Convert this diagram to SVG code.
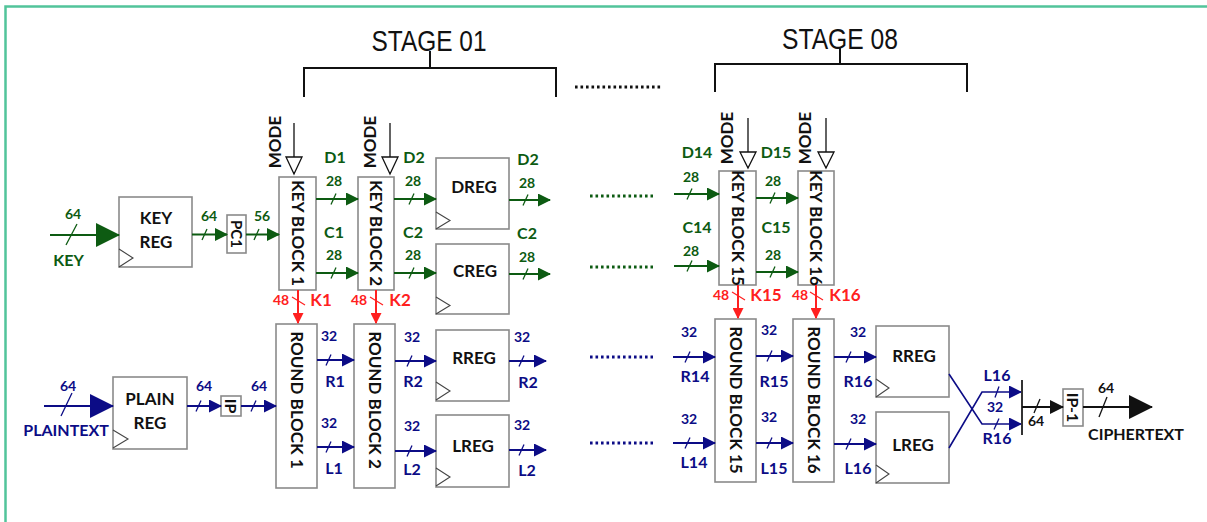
<svg xmlns="http://www.w3.org/2000/svg" width="1207" height="522" viewBox="0 0 1207 522">
<style>
text{font-family:Lato,"Liberation Sans",sans-serif;font-weight:bold;text-anchor:middle}
.box{fill:#fff;stroke:#8a8a8a;stroke-width:1.6}
.clk{fill:none;stroke:#444;stroke-width:1.1}
.g{stroke:#0d5b12;stroke-width:2;fill:none}
.n{stroke:#0c0c86;stroke-width:2;fill:none}
.r{stroke:#ff2020;stroke-width:2;fill:none}
.k{stroke:#111;stroke-width:2;fill:none}
.gs{stroke:#0d5b12;stroke-width:1.3}
.ns{stroke:#0c0c86;stroke-width:1.3}
.rs{stroke:#ff2020;stroke-width:1.3}
.ks{stroke:#111;stroke-width:1.3}
.gt{fill:#0d5b12}
.nt{fill:#0c0c86}
.rt{fill:#ff2020}
.kt{fill:#111}
.num{font-size:14px}
.lab{font-size:16px}
.bt{font-size:17px;fill:#111}
.mode{stroke:#111;stroke-width:1.3;fill:none}
.tri{fill:#fff;stroke:#111;stroke-width:1.3}
.dots{stroke-width:3;stroke-dasharray:2.6 2.9}
.stage{font-family:"Liberation Sans",Arial,sans-serif;font-weight:normal;font-size:29px;fill:#111}
</style>
<defs>
<marker id="ag" viewBox="0 0 13 13" refX="12" refY="6.5" markerWidth="13" markerHeight="13" markerUnits="userSpaceOnUse" orient="auto"><path d="M0,0 L13,6.5 L0,13 z" fill="#0d5b12"/></marker>
<marker id="an" viewBox="0 0 13 13" refX="12" refY="6.5" markerWidth="13" markerHeight="13" markerUnits="userSpaceOnUse" orient="auto"><path d="M0,0 L13,6.5 L0,13 z" fill="#0c0c86"/></marker>
<marker id="ak" viewBox="0 0 14 14" refX="13" refY="7" markerWidth="14" markerHeight="14" markerUnits="userSpaceOnUse" orient="auto"><path d="M0,0 L14,7 L0,14 z" fill="#111"/></marker>
<marker id="ar" viewBox="0 0 11 11" refX="10" refY="5.5" markerWidth="11" markerHeight="11" markerUnits="userSpaceOnUse" orient="auto"><path d="M0,0 L11,5.5 L0,11 z" fill="#ff2020"/></marker>
<marker id="bg" viewBox="0 0 24 24" refX="23" refY="12" markerWidth="24" markerHeight="24" markerUnits="userSpaceOnUse" orient="auto"><path d="M0,0 L24,12 L0,24 z" fill="#0d5b12"/></marker>
<marker id="bn" viewBox="0 0 24 24" refX="23" refY="12" markerWidth="24" markerHeight="24" markerUnits="userSpaceOnUse" orient="auto"><path d="M0,0 L24,12 L0,24 z" fill="#0c0c86"/></marker>
<marker id="bk" viewBox="0 0 24 24" refX="23" refY="12" markerWidth="24" markerHeight="24" markerUnits="userSpaceOnUse" orient="auto"><path d="M0,0 L24,12 L0,24 z" fill="#111"/></marker>
</defs>
<rect width="1207" height="522" fill="#fff"/>
<path d="M5.5,522 V6.5 H1207" stroke="#52c49a" stroke-width="2.5" fill="none"/>

<g id="stages">
<path d="M304,97 V68 H556 V97 M430,68 V51" class="k"/>
<path d="M715,92 V64 H967 V92 M840,64 V48" class="k"/>
<text x="429" y="51" class="stage" textLength="115" lengthAdjust="spacingAndGlyphs">STAGE 01</text>
<text x="840" y="49" class="stage" textLength="116" lengthAdjust="spacingAndGlyphs">STAGE 08</text>
<line x1="575" y1="87" x2="662" y2="87" class="k dots"/>
</g>

<g id="key-reg"><rect x="119" y="197" width="73" height="70" class="box"/><path d="M119,249 L133,258 L119,267" class="clk"/><text x="156" y="224" class="bt">KEY</text><text x="156" y="248" class="bt">REG</text></g>
<g id="pc1"><rect x="227" y="215" width="19" height="38" class="box"/><text transform="translate(236.5,234) rotate(90)" dy="0.35em" class="bt" style="font-size:15px">PC1</text></g>
<g id="key-block-1"><rect x="279" y="177" width="37" height="113" class="box"/><text transform="translate(297.5,233) rotate(90)" dy="0.35em" class="bt">KEY BLOCK 1</text></g>
<g id="key-block-2"><rect x="358" y="177" width="36" height="113" class="box"/><text transform="translate(376,233) rotate(90)" dy="0.35em" class="bt">KEY BLOCK 2</text></g>
<g id="dreg"><rect x="436" y="158" width="73" height="71" class="box"/><path d="M436,212 L450,220.5 L436,229" class="clk"/><text x="474" y="193" class="bt">DREG</text></g>
<g id="creg"><rect x="436" y="244" width="73" height="70" class="box"/><path d="M436,297 L450,305.5 L436,314" class="clk"/><text x="475" y="277" class="bt">CREG</text></g>
<g id="key-block-15"><rect x="719" y="171" width="37" height="114" class="box"/><text transform="translate(737.5,228) rotate(90)" dy="0.35em" class="bt">KEY BLOCK 15</text></g>
<g id="key-block-16"><rect x="798" y="171" width="36" height="114" class="box"/><text transform="translate(816,228) rotate(90)" dy="0.35em" class="bt">KEY BLOCK 16</text></g>

<g id="plain-reg"><rect x="113" y="377" width="74" height="72" class="box"/><path d="M113,430 L128,439 L113,448" class="clk"/><text x="150" y="405" class="bt">PLAIN</text><text x="150" y="429" class="bt">REG</text></g>
<g id="ip"><rect x="221" y="396" width="20" height="20" class="box"/><text transform="translate(231,406) rotate(90)" dy="0.35em" class="bt" style="font-size:16px">IP</text></g>
<g id="round-block-1"><rect x="276" y="324" width="41" height="164" class="box"/><text transform="translate(296.5,400) rotate(90)" dy="0.35em" class="bt">ROUND BLOCK 1</text></g>
<g id="round-block-2"><rect x="354" y="324" width="41" height="164" class="box"/><text transform="translate(374.5,400) rotate(90)" dy="0.35em" class="bt">ROUND BLOCK 2</text></g>
<g id="rreg-1"><rect x="436" y="330" width="73" height="71" class="box"/><path d="M436,382 L450,391 L436,400" class="clk"/><text x="474" y="364" class="bt">RREG</text></g>
<g id="lreg-1"><rect x="436" y="415" width="73" height="72" class="box"/><path d="M436,468 L450,477 L436,486" class="clk"/><text x="473" y="452" class="bt">LREG</text></g>
<g id="round-block-15"><rect x="715" y="319" width="41" height="163" class="box"/><text transform="translate(735.5,400) rotate(90)" dy="0.35em" class="bt">ROUND BLOCK 15</text></g>
<g id="round-block-16"><rect x="793" y="319" width="41" height="163" class="box"/><text transform="translate(813.5,400) rotate(90)" dy="0.35em" class="bt">ROUND BLOCK 16</text></g>
<g id="rreg-16"><rect x="876" y="326" width="73" height="71" class="box"/><path d="M876,379 L889,388 L876,397" class="clk"/><text x="914" y="362" class="bt">RREG</text></g>
<g id="lreg-16"><rect x="876" y="412" width="73" height="71" class="box"/><path d="M876,465 L889,474 L876,483" class="clk"/><text x="913" y="451" class="bt">LREG</text></g>
<g id="ip-inv"><rect x="1063" y="389" width="20" height="37" class="box"/><text transform="translate(1073,407.5) rotate(90)" dy="0.35em" class="bt" style="font-size:16px">IP-1</text></g>

<g id="mode-inputs">
<path d="M294,123 V157 M390,123 V157 M748,118 V152 M826,118 V152" class="mode"/>
<path d="M286,157 H302 L294,174 z M382,157 H398 L390,174 z M740,152 H756 L748,168 z M818,152 H834 L826,168 z" class="tri"/>
<text transform="translate(275,142) rotate(-90)" dy="0.35em" class="bt">MODE</text>
<text transform="translate(370.5,142) rotate(-90)" dy="0.35em" class="bt">MODE</text>
<text transform="translate(727,138) rotate(-90)" dy="0.35em" class="bt">MODE</text>
<text transform="translate(805.5,138) rotate(-90)" dy="0.35em" class="bt">MODE</text>
</g>

<g id="connectors">
<!-- key path -->
<line x1="50" y1="235" x2="119" y2="235" class="g" marker-end="url(#bg)"/>
<line x1="66" y1="245" x2="77" y2="224" class="gs"/>
<line x1="192" y1="234.5" x2="227" y2="234.5" class="g" marker-end="url(#ag)"/>
<line x1="202" y1="240" x2="207" y2="229" class="gs"/>
<line x1="246" y1="234.5" x2="279" y2="234.5" class="g" marker-end="url(#ag)"/>
<line x1="254" y1="240" x2="259" y2="229" class="gs"/>
<line x1="316" y1="199" x2="358" y2="199" class="g" marker-end="url(#ag)"/>
<line x1="331" y1="204.5" x2="336" y2="193.5" class="gs"/>
<line x1="316" y1="273" x2="358" y2="273" class="g" marker-end="url(#ag)"/>
<line x1="331" y1="278.5" x2="336" y2="267.5" class="gs"/>
<line x1="394" y1="199" x2="436" y2="199" class="g" marker-end="url(#ag)"/>
<line x1="409" y1="204.5" x2="414" y2="193.5" class="gs"/>
<line x1="394" y1="273" x2="436" y2="273" class="g" marker-end="url(#ag)"/>
<line x1="409" y1="278.5" x2="414" y2="267.5" class="gs"/>
<line x1="509" y1="200" x2="550" y2="200" class="g" marker-end="url(#ag)"/>
<line x1="523" y1="205.5" x2="528" y2="194.5" class="gs"/>
<line x1="509" y1="274" x2="550" y2="274" class="g" marker-end="url(#ag)"/>
<line x1="523" y1="279.5" x2="528" y2="268.5" class="gs"/>
<line x1="590" y1="196" x2="653" y2="196" class="g dots"/>
<line x1="590" y1="267" x2="653" y2="267" class="g dots"/>
<line x1="674" y1="194" x2="719" y2="194" class="g" marker-end="url(#ag)"/>
<line x1="687" y1="199.5" x2="692" y2="188.5" class="gs"/>
<line x1="674" y1="266" x2="719" y2="266" class="g" marker-end="url(#ag)"/>
<line x1="687" y1="271.5" x2="692" y2="260.5" class="gs"/>
<line x1="756" y1="198" x2="798" y2="198" class="g" marker-end="url(#ag)"/>
<line x1="770" y1="203.5" x2="775" y2="192.5" class="gs"/>
<line x1="756" y1="272" x2="798" y2="272" class="g" marker-end="url(#ag)"/>
<line x1="770" y1="277.5" x2="775" y2="266.5" class="gs"/>
<!-- round keys -->
<line x1="298" y1="290" x2="298" y2="323" class="r" marker-end="url(#ar)"/>
<line x1="292" y1="297" x2="305" y2="305" class="rs"/>
<line x1="376" y1="290" x2="376" y2="323" class="r" marker-end="url(#ar)"/>
<line x1="370" y1="297" x2="383" y2="305" class="rs"/>
<line x1="738" y1="285" x2="738" y2="318" class="r" marker-end="url(#ar)"/>
<line x1="732" y1="292" x2="745" y2="300" class="rs"/>
<line x1="816" y1="285" x2="816" y2="318" class="r" marker-end="url(#ar)"/>
<line x1="810" y1="292" x2="823" y2="300" class="rs"/>
<!-- data path -->
<line x1="44" y1="406" x2="113" y2="406" class="n" marker-end="url(#bn)"/>
<line x1="61" y1="416" x2="72" y2="393" class="ns"/>
<line x1="187" y1="406" x2="221" y2="406" class="n" marker-end="url(#an)"/>
<line x1="196" y1="411.5" x2="201" y2="400.5" class="ns"/>
<line x1="241" y1="406" x2="276" y2="406" class="n" marker-end="url(#an)"/>
<line x1="251" y1="411.5" x2="256" y2="400.5" class="ns"/>
<line x1="317" y1="360" x2="354" y2="360" class="n" marker-end="url(#an)"/>
<line x1="326" y1="365.5" x2="331" y2="354.5" class="ns"/>
<line x1="317" y1="447" x2="354" y2="447" class="n" marker-end="url(#an)"/>
<line x1="326" y1="452.5" x2="331" y2="441.5" class="ns"/>
<line x1="395" y1="361" x2="436" y2="361" class="n" marker-end="url(#an)"/>
<line x1="407" y1="366.5" x2="412" y2="355.5" class="ns"/>
<line x1="395" y1="451" x2="436" y2="451" class="n" marker-end="url(#an)"/>
<line x1="407" y1="456.5" x2="412" y2="445.5" class="ns"/>
<line x1="509" y1="361" x2="546" y2="361" class="n" marker-end="url(#an)"/>
<line x1="519" y1="366.5" x2="524" y2="355.5" class="ns"/>
<line x1="509" y1="450" x2="546" y2="450" class="n" marker-end="url(#an)"/>
<line x1="519" y1="455.5" x2="524" y2="444.5" class="ns"/>
<line x1="590" y1="357" x2="653" y2="357" class="n dots"/>
<line x1="590" y1="443" x2="653" y2="443" class="n dots"/>
<line x1="673" y1="357" x2="715" y2="357" class="n" marker-end="url(#an)"/>
<line x1="685" y1="362.5" x2="690" y2="351.5" class="ns"/>
<line x1="673" y1="443" x2="715" y2="443" class="n" marker-end="url(#an)"/>
<line x1="685" y1="448.5" x2="690" y2="437.5" class="ns"/>
<line x1="756" y1="356" x2="793" y2="356" class="n" marker-end="url(#an)"/>
<line x1="767" y1="361.5" x2="772" y2="350.5" class="ns"/>
<line x1="756" y1="443" x2="793" y2="443" class="n" marker-end="url(#an)"/>
<line x1="767" y1="448.5" x2="772" y2="437.5" class="ns"/>
<line x1="834" y1="357" x2="876" y2="357" class="n" marker-end="url(#an)"/>
<line x1="846" y1="362.5" x2="851" y2="351.5" class="ns"/>
<line x1="834" y1="444" x2="876" y2="444" class="n" marker-end="url(#an)"/>
<line x1="846" y1="449.5" x2="851" y2="438.5" class="ns"/>
<polyline points="949,448 982,392 1021,392" class="n" style="stroke-width:1.6" marker-end="url(#an)"/>
<line x1="995" y1="397.5" x2="999" y2="386.5" class="ns"/>
<polyline points="949,374 982,424 1021,424" class="n" style="stroke-width:1.6" marker-end="url(#an)"/>
<line x1="994" y1="429.5" x2="999" y2="418.5" class="ns"/>
<line x1="1022" y1="380" x2="1022" y2="435" stroke="#333" stroke-width="2"/>
<line x1="1022" y1="407" x2="1063" y2="407" class="k" marker-end="url(#ak)"/>
<line x1="1034" y1="413" x2="1040" y2="399" class="ks"/>
<line x1="1083" y1="407" x2="1152" y2="407" class="k" marker-end="url(#bk)"/>
<line x1="1099" y1="417" x2="1107" y2="397" class="ks"/>
</g>

<g id="labels">
<text x="73" y="219" class="gt num">64</text>
<text x="68.5" y="266" class="gt lab">KEY</text>
<text x="209" y="221" class="gt num">64</text>
<text x="262" y="221" class="gt num">56</text>
<text x="335" y="163" class="gt lab">D1</text>
<text x="334" y="186" class="gt num">28</text>
<text x="334" y="238" class="gt lab">C1</text>
<text x="334" y="260" class="gt num">28</text>
<text x="414" y="163" class="gt lab">D2</text>
<text x="413" y="186" class="gt num">28</text>
<text x="413" y="238" class="gt lab">C2</text>
<text x="413" y="260" class="gt num">28</text>
<text x="528" y="165" class="gt lab">D2</text>
<text x="527" y="188" class="gt num">28</text>
<text x="527" y="239" class="gt lab">C2</text>
<text x="527" y="262" class="gt num">28</text>
<text x="697" y="158" class="gt lab">D14</text>
<text x="691" y="182" class="gt num">28</text>
<text x="697" y="233" class="gt lab">C14</text>
<text x="691" y="256" class="gt num">28</text>
<text x="776" y="158" class="gt lab">D15</text>
<text x="773" y="186" class="gt num">28</text>
<text x="776" y="233" class="gt lab">C15</text>
<text x="773" y="260" class="gt num">28</text>

<text x="281" y="305" class="rt num">48</text>
<text x="321" y="306" class="rt lab" style="font-size:17px">K1</text>
<text x="359" y="305" class="rt num">48</text>
<text x="400" y="306" class="rt lab" style="font-size:17px">K2</text>
<text x="721" y="300" class="rt num">48</text>
<text x="766" y="301" class="rt lab" style="font-size:17px">K15</text>
<text x="800" y="300" class="rt num">48</text>
<text x="845" y="301" class="rt lab" style="font-size:17px">K16</text>

<text x="68" y="391" class="nt num">64</text>
<text x="66" y="436" class="nt lab">PLAINTEXT</text>
<text x="204" y="391" class="nt num">64</text>
<text x="259" y="391" class="nt num">64</text>
<text x="329" y="341" class="nt num">32</text>
<text x="335" y="387" class="nt lab">R1</text>
<text x="329" y="428" class="nt num">32</text>
<text x="334" y="474" class="nt lab">L1</text>
<text x="412" y="342" class="nt num">32</text>
<text x="413" y="387" class="nt lab">R2</text>
<text x="412" y="431" class="nt num">32</text>
<text x="412" y="475" class="nt lab">L2</text>
<text x="522" y="342" class="nt num">32</text>
<text x="528" y="388" class="nt lab">R2</text>
<text x="522" y="430" class="nt num">32</text>
<text x="527" y="476" class="nt lab">L2</text>
<text x="689" y="337" class="nt num">32</text>
<text x="695" y="382" class="nt lab">R14</text>
<text x="689" y="424" class="nt num">32</text>
<text x="694" y="468" class="nt lab">L14</text>
<text x="769" y="335" class="nt num">32</text>
<text x="774" y="387" class="nt lab">R15</text>
<text x="769" y="422" class="nt num">32</text>
<text x="774" y="474" class="nt lab">L15</text>
<text x="858" y="337" class="nt num">32</text>
<text x="858" y="387" class="nt lab">R16</text>
<text x="858" y="424" class="nt num">32</text>
<text x="858" y="474" class="nt lab">L16</text>
<text x="997" y="381" class="nt lab">L16</text>
<text x="995" y="412" class="nt num">32</text>
<text x="997" y="444" class="nt lab">R16</text>

<text x="1036" y="426" class="kt num">64</text>
<text x="1106" y="393" class="kt num">64</text>
<text x="1136" y="440" class="kt lab">CIPHERTEXT</text>
</g>
</svg>
